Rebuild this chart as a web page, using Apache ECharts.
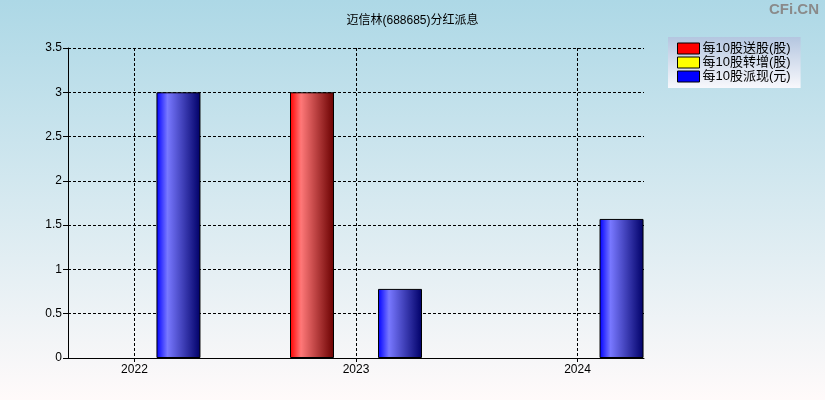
<!DOCTYPE html>
<html>
<head>
<meta charset="utf-8">
<script src="https://cdn.jsdelivr.net/npm/echarts@6/dist/echarts.min.js"></script>
<style>
  html, body { margin: 0; padding: 0; }
  #chart { width: 825px; height: 400px; }
</style>
</head>
<body>
<div id="chart"></div>
<script>
const years = [2022, 2023, 2024]
const songGu = [0, 3, 0]        // 每10股送股(股)
const zhuanZeng = [0, 0, 0]     // 每10股转增(股)
const paiXian = [3, 0.78, 1.57] // 每10股派现(元)
const yTicks = [0, 0.5, 1, 1.5, 2, 2.5, 3, 3.5]

const font = 'Arial, "Liberation Sans", "Noto Sans CJK SC", sans-serif'

const barGrad = (c0, c1, c2) => new echarts.graphic.LinearGradient(0, 0, 1, 0, [
    { offset: 0, color: c0 },
    { offset: 0.25, color: c1 },
    { offset: 1, color: c2 },
])

const toPairs = vals => years.map((y, i) => [y, vals[i] === 0 ? '-' : vals[i]])

const chart = echarts.init(document.getElementById('chart'))
chart.setOption({
    animation: false,
    backgroundColor: new echarts.graphic.LinearGradient(0, 0, 0, 1, [
        { offset: 0, color: '#add8e6' },
        { offset: 1, color: '#fffafa' },
    ]),
    title: {
        text: '迈信林(688685)分红派息',
        left: 'center',
        top: 10,
        textStyle: { fontSize: 12, fontWeight: 'normal', color: '#000', fontFamily: font },
    },
    graphic: [{
        type: 'text',
        right: 6,
        top: 2,
        style: { text: 'CFi.CN', fontSize: 15, fontWeight: 'bold', fill: '#8a8a8a', fontFamily: font },
    }],
    legend: {
        left: 668,
        top: 37,
        orient: 'vertical',
        padding: [5, 10, 5, 9],
        itemGap: 1,
        itemWidth: 22,
        itemHeight: 11,
        icon: 'rect',
        backgroundColor: new echarts.graphic.LinearGradient(0, 0, 0, 1, [
            { offset: 0, color: '#b4c6e0' },
            { offset: 1, color: '#f8f8fc' },
        ]),
        textStyle: { fontSize: 13, color: '#000', fontFamily: font, padding: [0, 0, 0, -2] },
        data: [
            { name: '每10股送股(股)', itemStyle: { color: '#ff0000', borderColor: '#000', borderWidth: 1 } },
            { name: '每10股转增(股)', itemStyle: { color: '#ffff00', borderColor: '#000', borderWidth: 1 } },
            { name: '每10股派现(元)', itemStyle: { color: '#0000ff', borderColor: '#000', borderWidth: 1 } },
        ],
    },
    grid: { left: 68, right: 181, top: 48, bottom: 42 },
    xAxis: {
        type: 'value',
        min: 2021.7,
        max: 2024.3,
        axisLine: { show: true, lineStyle: { color: '#000', width: 1 } },
        axisTick: { show: true, length: 4, customValues: years, lineStyle: { color: '#000' } },
        axisLabel: {
            customValues: years, color: '#000', fontSize: 12, margin: 6, fontFamily: font,
            formatter: v => String(v),
        },
        splitLine: { show: true, lineStyle: { color: '#000', type: [3, 2], width: 1 } },
    },
    yAxis: {
        type: 'value',
        min: yTicks[0],
        max: yTicks[yTicks.length - 1],
        interval: 0.5,
        axisLine: { show: true, lineStyle: { color: '#000', width: 1 } },
        axisTick: { show: true, length: 5, lineStyle: { color: '#000' } },
        axisLabel: { color: '#000', fontSize: 12, margin: 6, fontFamily: font },
        splitLine: { show: true, lineStyle: { color: '#000', type: [3, 2], width: 1 } },
    },
    series: [
        {
            name: '每10股送股(股)',
            type: 'bar',
            barWidth: 44,
            barGap: '0%',
            data: toPairs(songGu),
            itemStyle: { color: barGrad('#ff0000', '#ff7878', '#6a0000'), borderColor: '#000', borderWidth: 1 },
        },
        {
            name: '每10股转增(股)',
            type: 'bar',
            barWidth: 44,
            barGap: '0%',
            data: toPairs(zhuanZeng),
            itemStyle: { color: barGrad('#ffff00', '#ffff90', '#707000'), borderColor: '#000', borderWidth: 1 },
        },
        {
            name: '每10股派现(元)',
            type: 'bar',
            barWidth: 44,
            barGap: '0%',
            data: toPairs(paiXian),
            itemStyle: { color: barGrad('#0000ff', '#7878ff', '#000068'), borderColor: '#000', borderWidth: 1 },
        },
    ],
})
</script>
</body>
</html>
